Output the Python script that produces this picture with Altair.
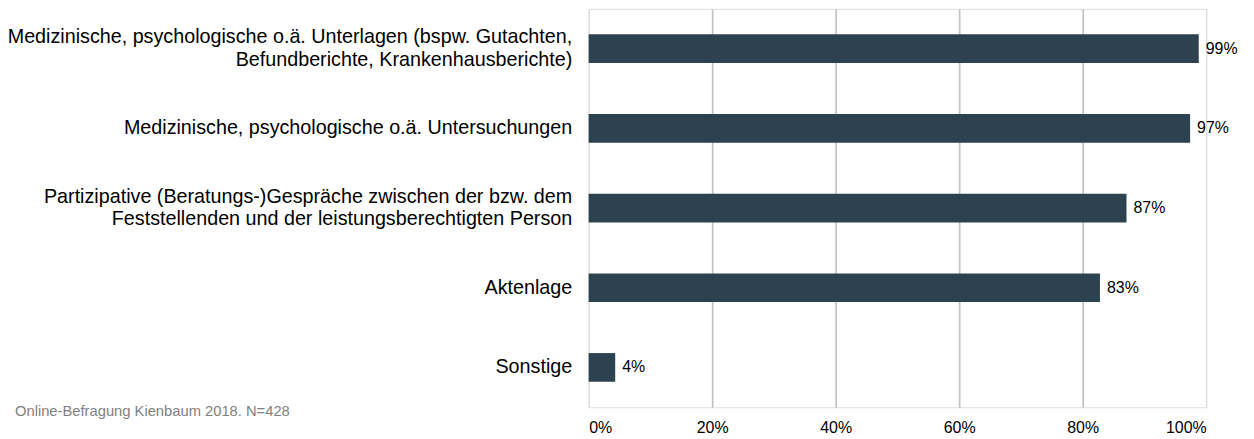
import altair as alt
import pandas as pd

categories = [
    "Medizinische, psychologische o.ä. Unterlagen (bspw. Gutachten,|Befundberichte, Krankenhausberichte)",
    "Medizinische, psychologische o.ä. Untersuchungen",
    "Partizipative (Beratungs-)Gespräche zwischen der bzw. dem|Feststellenden und der leistungsberechtigten Person",
    "Aktenlage",
    "Sonstige",
]
values = [0.988, 0.974, 0.871, 0.828, 0.043]
x_ticks = [0, 0.2, 0.4, 0.6, 0.8, 1.0]
footnote = "Online-Befragung Kienbaum 2018. N=428"

df = pd.DataFrame({"cat": categories, "val": values})

FONT = "Liberation Sans"
BAR = "#2c4251"

base = alt.Chart(df)

y_enc = alt.Y(
    "cat:N",
    sort=None,
    title=None,
    scale=alt.Scale(paddingInner=0.64, paddingOuter=0.32),
    axis=alt.Axis(
        labelExpr="split(datum.label, '|')",
        labelFontSize=19.8,
        labelFont=FONT,
        labelColor="#000000",
        labelLineHeight=23,
        labelPadding=17,
        labelLimit=700,
        labelOffset=alt.condition("indexof(datum.label, '|') >= 0", alt.value(-11.5), alt.value(0)),
        ticks=False,
        domain=False,
        grid=False,
    ),
)

x_enc = alt.X(
    "val:Q",
    title=None,
    scale=alt.Scale(domain=[0, 1], nice=False),
    axis=alt.Axis(
        values=x_ticks,
        format=".0%",
        labelFontSize=16,
        labelFont=FONT,
        labelColor="#000000",
        labelPadding=12,
        ticks=False,
        domain=False,
        grid=True,
        gridColor=alt.condition("datum.value == 0 || datum.value == 1", alt.value("#d9d9d9"), alt.value("#c2c2c2")),
        gridWidth=alt.condition("datum.value == 0 || datum.value == 1", alt.value(1), alt.value(1.7)),
    ),
)

bars = base.mark_bar(color=BAR).encode(x=x_enc, y=y_enc)

labels = base.mark_text(
    align="left", baseline="middle", dx=7, fontSize=16, font=FONT, color="#000000"
).encode(
    x=alt.X("val:Q"),
    y=alt.Y("cat:N", sort=None),
    text=alt.Text("val:Q", format=".0%"),
)

note = alt.Chart(pd.DataFrame({"t": [footnote]})).mark_text(
    align="left", baseline="middle", fontSize=14.8, font=FONT, color="#7f7f7f"
).encode(
    x=alt.value(-576),
    y=alt.value(405),
    text="t:N",
)

chart = (
    alt.layer(bars, labels, note)
    .properties(
        width=620,
        height=400,
        autosize=alt.AutoSizeParams(type="none"),
        padding={"left": 583, "top": 0, "right": 40, "bottom": 30},
    )
    .configure_view(stroke="#d9d9d9", strokeWidth=1)
    .configure(background="white")
)

chart.save("out.html", embed_options={"renderer": "svg", "actions": False})
